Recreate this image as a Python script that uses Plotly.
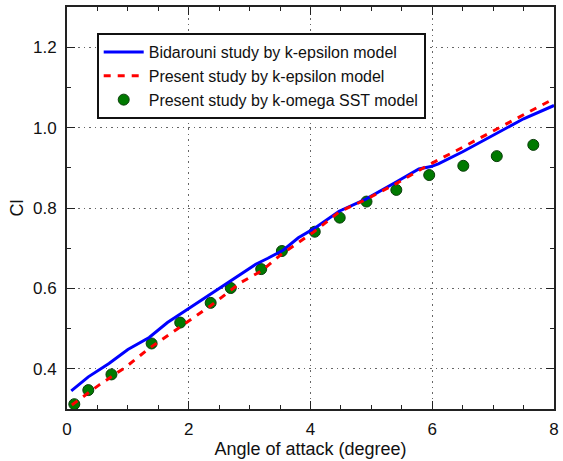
import plotly.graph_objects as go

# Bidarouni study by k-epsilon model
blue_x = [0.07, 0.35, 0.69, 1.0, 1.35, 1.65, 2.0, 2.37, 2.72, 3.1, 3.3, 3.55, 3.8, 4.05,
          4.47, 4.91, 5.4, 5.78, 5.98, 6.1, 6.5, 7.1, 7.5, 8.0]
blue_y = [0.345, 0.38, 0.413, 0.448, 0.478, 0.515, 0.55, 0.587, 0.62, 0.66, 0.675, 0.695,
          0.726, 0.748, 0.792, 0.822, 0.864, 0.897, 0.903, 0.91, 0.94, 0.99, 1.022, 1.055]

# Present study by k-epsilon model
red_x = [0.08, 0.53, 0.97, 1.36, 1.8, 2.36, 2.86, 3.19, 3.53, 4.05, 4.47, 4.92, 5.4,
         5.95, 6.4, 6.9, 7.4, 8.0]
red_y = [0.31, 0.36, 0.405, 0.452, 0.498, 0.557, 0.615, 0.643, 0.686, 0.74, 0.79, 0.822,
         0.86, 0.908, 0.943, 0.984, 1.024, 1.072]

# Present study by k-omega SST model
green_x = [0.12, 0.35, 0.73, 1.39, 1.86, 2.36, 2.69, 3.19, 3.53, 4.07, 4.48, 4.92, 5.41,
           5.95, 6.51, 7.06, 7.66]
green_y = [0.312, 0.347, 0.386, 0.463, 0.515, 0.564, 0.601, 0.648, 0.693, 0.741, 0.776,
           0.816, 0.845, 0.882, 0.905, 0.929, 0.957]

names = ["Bidarouni study by k-epsilon model",
         "Present study by k-epsilon model",
         "Present study by k-omega SST model"]

x_ticks = [0, 2, 4, 6, 8]
y_ticks = [0.4, 0.6, 0.8, 1.0, 1.2]

fig = go.Figure()
fig.add_trace(go.Scatter(x=green_x, y=green_y, mode="markers", name=names[2],
                         legendrank=3, legendgroup="c",
                         marker=dict(color="#007a00", size=11,
                                     line=dict(color="#0b3d0b", width=1))))
fig.add_trace(go.Scatter(x=blue_x, y=blue_y, mode="lines", name=names[0],
                         legendrank=1, legendgroup="a",
                         line=dict(color="#0000ff", width=3)))
fig.add_trace(go.Scatter(x=red_x, y=red_y, mode="lines", name=names[1],
                         legendrank=2, legendgroup="b",
                         line=dict(color="#ff0000", width=3, dash="7px,7px")))

font_family = "Liberation Sans, Arial, sans-serif"
axis_common = dict(
    showline=True, linecolor="#222", linewidth=1.8, mirror="allticks",
    ticks="inside", ticklen=8, tickwidth=1, tickcolor="#222",
    showgrid=True, gridcolor="#666", gridwidth=1, griddash="1.5px,4px",
    zeroline=False, automargin=False, ticklabeloverflow="allow",
    tickfont=dict(size=17, color="#111", family=font_family),
)

fig.update_xaxes(range=[0, 8], tickvals=x_ticks, ticktext=[str(v) for v in x_ticks],
                 minor=dict(dtick=0.5, tick0=0, ticks="inside", ticklen=4, showgrid=False,
                            tickcolor="#222"),
                 ticklabelstandoff=4,
                 title=dict(text="Angle of attack (degree)", standoff=4,
                            font=dict(size=18, color="#111", family=font_family)),
                 **axis_common)
fig.update_yaxes(range=[0.3, 1.3], tickvals=y_ticks, ticktext=[f"{v:.1f}" for v in y_ticks],
                 minor=dict(dtick=0.1, tick0=0.3, ticks="inside", ticklen=4, showgrid=False,
                            tickcolor="#222"),
                 ticklabelstandoff=5,
                 title=dict(text="Cl", standoff=5,
                            font=dict(size=18, color="#111", family=font_family)),
                 **axis_common)

fig.update_layout(
    width=563, height=461,
    margin=dict(l=67, r=9, t=7, b=52),
    paper_bgcolor="white", plot_bgcolor="white",
    font=dict(family=font_family, color="#111"),
    legend=dict(x=0.061, y=0.935, xanchor="left", yanchor="top",
                bgcolor="white", bordercolor="#111", borderwidth=2,
                font=dict(size=16, color="#111", family=font_family),
                tracegroupgap=0, traceorder="grouped", itemwidth=40),
)

fig.write_html("out.html", config={"displayModeBar": False},
               post_script="document.body.style.margin='0';document.body.style.overflow='hidden';")
